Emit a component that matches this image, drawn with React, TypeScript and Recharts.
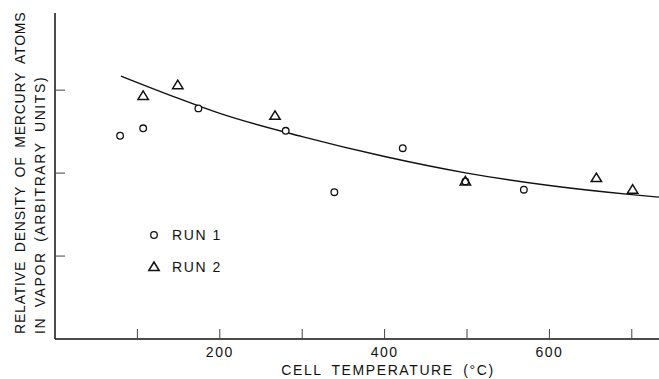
import { ComposedChart, Legend, Line, Scatter, XAxis, YAxis } from "recharts";

// Run 1 (circles)
const run1Temp = [79, 107, 174, 280, 339, 422, 498, 569];
const run1Density = [2.45, 2.54, 2.78, 2.51, 1.77, 2.3, 1.9, 1.8];

// Run 2 (triangles)
const run2Temp = [107, 149, 267, 498, 657, 701];
const run2Density = [2.93, 3.06, 2.69, 1.9, 1.94, 1.8];

// drawn curve
const fitTemp = [80, 150, 200, 300, 400, 500, 600, 700, 733];
const fitDensity = [3.17, 2.9, 2.72, 2.44, 2.2, 2.0, 1.85, 1.74, 1.71];

const xTicks = [100, 200, 300, 400, 500, 600, 700];
const xLabelled = [200, 400, 600];
const yTicks = [1, 2, 3];

const run1 = run1Temp.map((x, i) => ({ x, y: run1Density[i] }));
const run2 = run2Temp.map((x, i) => ({ x, y: run2Density[i] }));
const fit = fitTemp.map((x, i) => ({ x, y: fitDensity[i] }));

const FONT = "'Liberation Sans', Arial, sans-serif";
const INK = "#111";

function Circle({ cx, cy }: any) {
  return <circle cx={cx} cy={cy} r={3.3} fill="#fff" stroke={INK} strokeWidth={1.3} />;
}

function Triangle({ cx, cy }: any) {
  const pts = `${cx},${cy - 5} ${cx - 5.2},${cy + 3.5} ${cx + 5.2},${cy + 3.5}`;
  return <polygon points={pts} fill="none" stroke={INK} strokeWidth={1.5} strokeLinejoin="miter" />;
}

function XTick({ x, y, payload }: any) {
  const show = xLabelled.includes(payload.value);
  return (
    <g>
      <line x1={x} x2={x} y1={y} y2={y - 10} stroke="#444" strokeWidth={1} />
      {show && (
        <text x={x} y={y + 18} textAnchor="middle" fontFamily={FONT} fontSize={14} letterSpacing={1.5} fill={INK}>
          {payload.value}
        </text>
      )}
    </g>
  );
}

function YTick({ x, y }: any) {
  return <line x1={x} x2={x + 10} y1={y} y2={y} stroke="#444" strokeWidth={1} />;
}

function YTitle() {
  return (
    <g fontFamily={FONT} fontSize={14} fill={INK} wordSpacing={4}>
      <text x={25} y={334} transform="rotate(-90, 25, 334)" letterSpacing={0.8}>
        RELATIVE DENSITY OF MERCURY ATOMS
      </text>
      <text x={45} y={334} transform="rotate(-90, 45, 334)" letterSpacing={1.6}>
        IN VAPOR (ARBITRARY UNITS)
      </text>
    </g>
  );
}

function XTitle() {
  return (
    <text x={388} y={375} textAnchor="middle" fontFamily={FONT} fontSize={14} letterSpacing={1.6} wordSpacing={4} fill={INK}>
      CELL TEMPERATURE (°C)
    </text>
  );
}

function RunLegend() {
  return (
    <svg width={90} height={60} style={{ overflow: "visible" }}>
      <circle cx={10} cy={15} r={3.3} fill="#fff" stroke={INK} strokeWidth={1.3} />
      <text x={28} y={20} fontFamily={FONT} fontSize={14} letterSpacing={1.6} fill={INK}>
        RUN 1
      </text>
      <polygon points="10,42 4.8,50.5 15.2,50.5" fill="none" stroke={INK} strokeWidth={1.5} />
      <text x={28} y={52} fontFamily={FONT} fontSize={14} letterSpacing={1.6} fill={INK}>
        RUN 2
      </text>
    </svg>
  );
}

export default function App() {
  return (
    <div style={{ position: "absolute", left: 0, top: 0, width: 659, height: 379, background: "#fff" }}>
      <ComposedChart width={659} height={379} margin={{ top: 13, right: 0, bottom: 0, left: 50 }}>
        <XAxis
          type="number"
          dataKey="x"
          domain={[0, 733]}
          ticks={xTicks}
          interval={0}
          tickSize={0}
          tickMargin={0}
          tick={<XTick />}
          tickLine={false}
          axisLine={{ stroke: INK, strokeWidth: 1.5 }}
          height={40}
          allowDataOverflow
          label={<XTitle />}
        />
        <YAxis
          type="number"
          dataKey="y"
          domain={[0, 3.93]}
          ticks={yTicks}
          interval={0}
          tickSize={0}
          tickMargin={0}
          tick={<YTick />}
          tickLine={false}
          axisLine={{ stroke: INK, strokeWidth: 1.5 }}
          width={5}
          allowDataOverflow
          label={<YTitle />}
        />
        <Legend
          layout="vertical"
          align="center"
          verticalAlign="middle"
          wrapperStyle={{ left: 144, top: 220, width: 90 }}
          content={<RunLegend />}
        />
        <Line
          data={fit}
          dataKey="y"
          type="monotone"
          dot={false}
          activeDot={false}
          stroke={INK}
          strokeWidth={1.4}
          isAnimationActive={false}
          legendType="none"
        />
        <Scatter data={run1} dataKey="y" name="RUN 1" shape={<Circle />} isAnimationActive={false} />
        <Scatter data={run2} dataKey="y" name="RUN 2" shape={<Triangle />} isAnimationActive={false} />
      </ComposedChart>
    </div>
  );
}
